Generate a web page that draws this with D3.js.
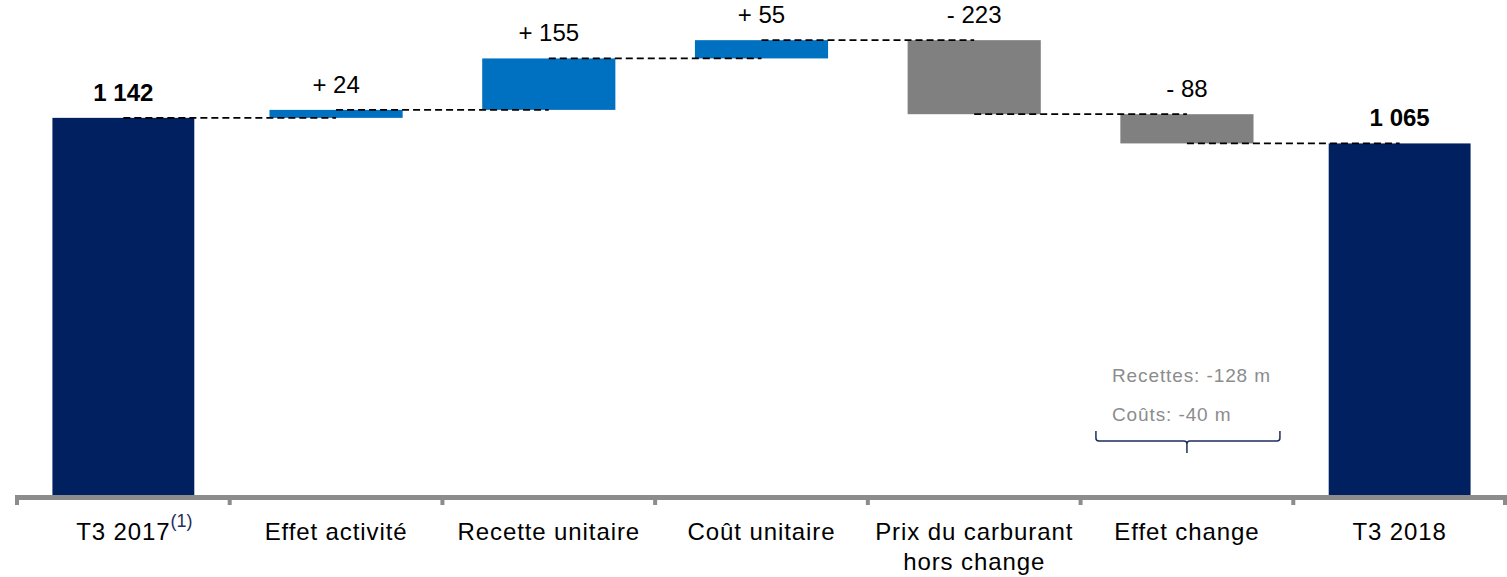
<!DOCTYPE html>
<html>
<head>
<meta charset="utf-8">
<script src="https://cdn.jsdelivr.net/npm/d3@7"></script>
<style>
  html, body { margin: 0; padding: 0; background: #fff; }
  svg { display: block; font-family: "Liberation Sans", Arial, sans-serif; }
</style>
</head>
<body>
<svg id="chart" width="1507" height="577"></svg>
<script>
const categories = ["T3 2017", "Effet activité", "Recette unitaire", "Coût unitaire", "Prix du carburant\nhors change", "Effet change", "T3 2018"];
const values = [1142, 24, 155, 55, -223, -88, 1065];
const kinds = ["total", "delta", "delta", "delta", "delta", "delta", "total"];
const valueLabels = ["1 142", "+ 24", "+ 155", "+ 55", "- 223", "- 88", "1 065"];
const superscripts = ["(1)", "", "", "", "", "", ""];
const noteLines = ["Recettes: -128 m", "Coûts: -40 m"];
const noteCategory = "Effet change";

const colors = { total: "#002060", up: "#0070C0", down: "#808080" };

const svg = d3.select("#chart");
const W = 1507;
const axisY = 497.5;

const x = d3.scaleBand().domain(categories).range([17, 1506]).paddingInner(0.333).paddingOuter(0.1665);
const y = d3.scaleLinear().domain([0, 1400]).range([497, 497 - 1400 * 0.332]);
const totalW = x.bandwidth();          // wide bars for totals
const deltaW = x.step() * 0.626;       // narrower bars for variations

// compute waterfall
let running = 0;
const data = categories.map((c, i) => {
  let start, end;
  if (kinds[i] === "total") { start = 0; end = values[i]; running = values[i]; }
  else { start = running; end = running + values[i]; running = end; }
  return { c, i, start, end, kind: kinds[i], v: values[i] };
});
const cx = c => x(c) + x.bandwidth() / 2;
const bw = d => d.kind === "total" ? totalW : deltaW;

// bars
svg.append("g").selectAll("rect").data(data).join("rect")
  .attr("x", d => cx(d.c) - bw(d) / 2)
  .attr("width", d => bw(d))
  .attr("y", d => y(Math.max(d.start, d.end)))
  .attr("height", d => Math.abs(y(d.start) - y(d.end)))
  .attr("fill", d => d.kind === "total" ? colors.total : (d.v >= 0 ? colors.up : colors.down));

// connectors
const conn = data.slice(0, -1).map((d, i) => ({ a: d, b: data[i + 1], level: d.end }));
svg.append("g").selectAll("line").data(conn).join("line")
  .attr("x1", d => cx(d.a.c))
  .attr("x2", d => cx(d.b.c))
  .attr("y1", d => y(d.level))
  .attr("y2", d => y(d.level))
  .attr("stroke", "#000")
  .attr("stroke-width", 1.8)
  .attr("stroke-dasharray", "7,4");

// value labels
svg.append("g").selectAll("text").data(data).join("text")
  .attr("x", d => cx(d.c))
  .attr("y", d => y(Math.max(d.start, d.end)) - 17)
  .attr("text-anchor", "middle")
  .attr("font-size", 24)
  .attr("font-weight", d => d.kind === "total" ? "bold" : "normal")
  .attr("fill", "#000")
  .text((d, i) => valueLabels[i]);

// axis
const step = x.step();
const gAxis = svg.append("g");
gAxis.append("line")
  .attr("x1", 15).attr("x2", W)
  .attr("y1", axisY).attr("y2", axisY)
  .attr("stroke", "#8c8c8c").attr("stroke-width", 5);
const boundaries = categories.map(c => cx(c) - step / 2).concat([cx(categories[categories.length - 1]) + step / 2 - 1]);
gAxis.selectAll("line.tick").data(boundaries).join("line")
  .attr("class", "tick")
  .attr("x1", d => d).attr("x2", d => d)
  .attr("y1", axisY).attr("y2", 505)
  .attr("stroke", "#8c8c8c").attr("stroke-width", 4);

// category labels
const catG = svg.append("g").selectAll("text").data(categories).join("text")
  .attr("x", c => cx(c))
  .attr("y", 540)
  .attr("text-anchor", "middle")
  .attr("font-size", 24)
  .attr("letter-spacing", 0.9)
  .attr("fill", "#000");
catG.each(function(c) {
  const lines = c.split("\n");
  const t = d3.select(this);
  lines.forEach((l, k) => {
    t.append("tspan").attr("x", cx(c)).attr("dy", k === 0 ? 0 : 30).text(l);
  });
});
// superscripts
categories.forEach((c, i) => {
  if (!superscripts[i]) return;
  const node = catG.filter(d => d === c).node();
  const bb = node.getBBox();
  svg.append("text")
    .attr("x", bb.x + bb.width)
    .attr("y", 527)
    .attr("font-size", 18)
    .attr("fill", "#1f2d5c")
    .text(superscripts[i]);
});

// note annotation
const nx = cx(noteCategory);
const noteG = svg.append("g");
noteG.selectAll("text").data(noteLines).join("text")
  .attr("x", nx - 75)
  .attr("y", (d, i) => 382 + i * 39)
  .attr("font-size", 19)
  .attr("letter-spacing", 0.9)
  .attr("fill", "#8c8c8c")
  .text(d => d);
const bl = nx - 91, br = nx + 93, bt = 431, bh = 441, bm = 453;
noteG.append("path")
  .attr("d", `M${bl},${bt} L${bl},${bh - 3} Q${bl},${bh} ${bl + 3},${bh} L${nx - 3},${bh} Q${nx},${bh} ${nx},${bh + 3} L${nx},${bm} M${nx},${bh + 3} Q${nx},${bh} ${nx + 3},${bh} L${br - 3},${bh} Q${br},${bh} ${br},${bh - 3} L${br},${bt}`)
  .attr("fill", "none")
  .attr("stroke", "#1f2d5c")
  .attr("stroke-width", 1.5);
</script>
</body>
</html>
